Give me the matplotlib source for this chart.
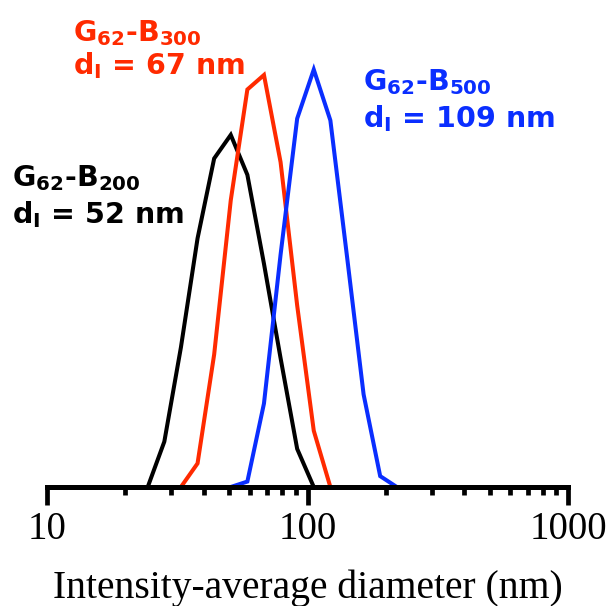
import matplotlib
matplotlib.use("Agg")
import matplotlib.pyplot as plt
from matplotlib.ticker import LogLocator, NullFormatter, FixedLocator, FixedFormatter

# Malvern-style size bins (nm)
bins_black = [24.36, 28.21, 32.67, 37.84, 43.82, 50.75, 58.77, 68.06, 78.82, 91.28, 105.7]
int_black = [0.0, 2.5, 7.7, 13.7, 18.1, 19.4, 17.2, 12.3, 7.1, 2.1, 0.0]

bins_red = [32.67, 37.84, 43.82, 50.75, 58.77, 68.06, 78.82, 91.28, 105.7, 122.4]
int_red = [0.0, 1.3, 7.3, 15.8, 21.9, 22.7, 17.9, 10.0, 3.1, 0.0]

bins_blue = [50.75, 58.77, 68.06, 78.82, 91.28, 105.7, 122.4, 141.8, 164.2, 190.1, 220.2]
int_blue = [0.0, 0.3, 4.6, 12.8, 20.3, 23.0, 20.2, 12.7, 5.1, 0.6, 0.0]

major_ticks = [10, 100, 1000]
major_labels = ["10", "100", "1000"]

BLACK = "#000000"
RED = "#FF2A00"
BLUE = "#0A2EFF"

plt.rcParams["mathtext.fontset"] = "dejavusans"

W, H = 610, 606
fig = plt.figure(figsize=(W / 100, H / 100), dpi=100)
left, right, bottom_px, top_px = 47, 568, 487, 20
ax = fig.add_axes([left / W, 1 - bottom_px / H, (right - left) / W, (bottom_px - top_px) / H])

lw = 2.9
ax.plot(bins_black, int_black, color=BLACK, lw=lw, clip_on=False, zorder=2, solid_joinstyle="miter")
ax.plot(bins_red, int_red, color=RED, lw=lw, clip_on=False, zorder=2, solid_joinstyle="miter")
ax.plot(bins_blue, int_blue, color=BLUE, lw=lw, clip_on=False, zorder=3, solid_joinstyle="miter")

ax.set_xscale("log")
ax.set_xlim(10, 1000)
ax.set_ylim(0, (bottom_px - top_px) / 18.15)

for s in ["top", "right", "left"]:
    ax.spines[s].set_visible(False)
ax.spines["bottom"].set_linewidth(3.6)
ax.spines["bottom"].set_zorder(5)
ax.yaxis.set_visible(False)

ax.xaxis.set_major_locator(FixedLocator(major_ticks))
ax.xaxis.set_major_formatter(FixedFormatter(major_labels))
ax.xaxis.set_minor_locator(LogLocator(base=10, subs=range(2, 10)))
ax.xaxis.set_minor_formatter(NullFormatter())
ax.tick_params(axis="x", which="major", length=13, width=3.4, direction="out", pad=4,
               labelsize=28, colors="black")
ax.tick_params(axis="x", which="minor", length=6, width=3.4, direction="out")
for lab in ax.get_xticklabels():
    lab.set_fontfamily("Liberation Serif")
ax.set_xlabel("Intensity-average diameter (nm)", fontsize=28.5, family="Liberation Serif", labelpad=16)


def label(xp, yp1, yp2, num, dval, color):
    fs = 20.5
    fig.text(xp / W, 1 - yp1 / H, r"G$_{\mathbf{62}}$-B$_{\mathbf{%s}}$" % num,
             color=color, fontsize=fs, fontweight="bold", ha="left", va="baseline")
    fig.text(xp / W, 1 - yp2 / H, r"d$_{\mathbf{I}}$ = %s nm" % dval,
             color=color, fontsize=fs, fontweight="bold", ha="left", va="baseline")


label(12, 186, 222.7, "200", "52", BLACK)
label(73, 41, 74, "300", "67", RED)
label(363, 90, 126.7, "500", "109", BLUE)

fig.savefig("out.png", dpi=100)
